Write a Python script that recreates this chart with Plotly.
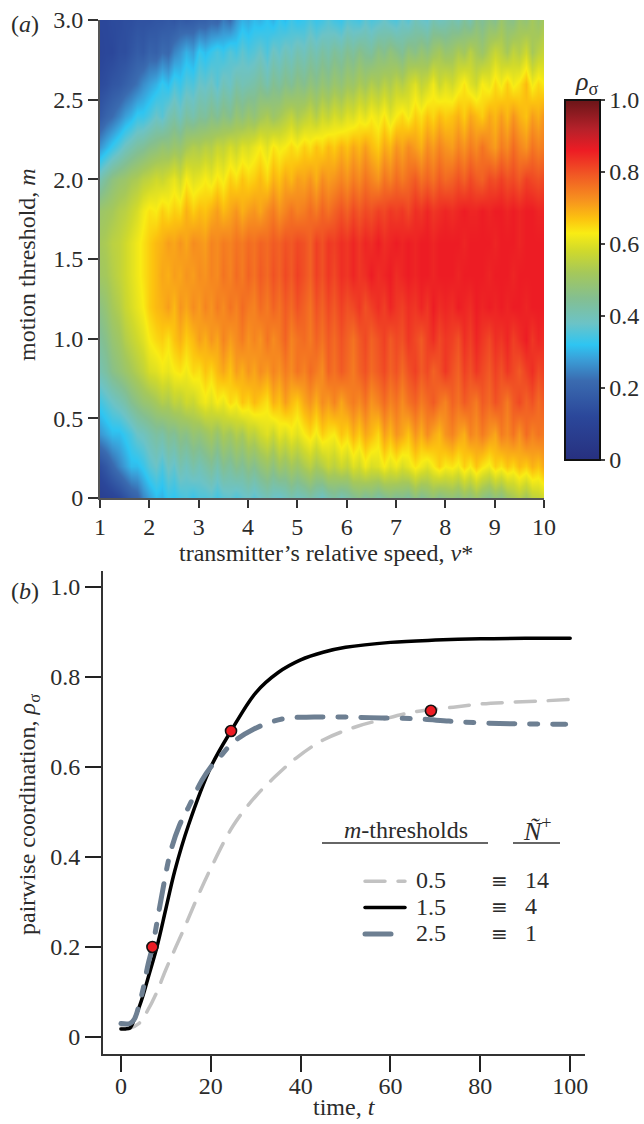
import plotly.graph_objects as go

W, H = 644, 1124
FONT = "Liberation Serif"
TXT = "#2b2b2b"
FS = 24

speed = [1 + 0.125 * i for i in range(73)]
threshold = [0.2 * i for i in range(16)]
# rho values in percent, one row per threshold
rows_pct = [
 [8,9,10,12,15,18,20,25,28, 31,30,33,32,34,35,33,35, 35,36,34,36,37,35,37,38, 36,38,40,38,37,39,41,39, 40,42,40,38,41,43,40,42, 44,46,43,45,42,44,46,44, 45,43,47,44,46,48,45,47, 48,46,49,47,50,47,45,48, 46,50,52,54,51,55,56,58],
 [14,17,21,25,28,31,31,33,36, 38,35,39,37,41,39,42,40, 42,44,41,45,43,46,44,47, 45,48,50,47,51,49,52,50, 53,55,52,54,57,55,58,56, 60,58,62,59,60,63,60,62, 59,61,64,62,60,63,66,63, 64,62,66,63,67,64,62,66, 64,67,65,68,66,69,67,70],
 [27,29,31,31,33,35,38,39,41, 43,42,45,44,47,46,49,48, 50,52,49,53,51,54,52,56, 55,58,60,57,61,59,62,60, 63,65,62,66,64,63,67,65, 69,66,70,68,65,71,68,72, 70,67,72,69,73,70,68,72, 74,71,69,74,72,75,72,70, 75,73,76,72,77,74,76,75],
 [34,36,38,40,42,45,47,49,50, 52,54,53,56,55,58,57,60, 62,60,63,61,65,63,67,65, 68,66,64,69,67,71,68,66, 70,72,69,73,71,74,70,73, 75,73,76,72,74,77,74,76, 73,76,78,75,77,79,76,74, 78,76,79,77,75,79,77,80, 78,75,79,81,78,80,77,79],
 [41,43,46,48,50,52,54,56,59, 60,62,61,63,64,62,65,64, 67,65,68,70,67,71,69,72, 70,73,71,74,72,75,73,76, 74,77,75,73,78,76,79,77, 75,78,80,77,79,81,78,80, 77,80,82,79,81,78,80,83, 80,78,82,80,83,81,79,82, 80,83,81,79,82,84,81,82],
 [44,46,49,51,54,56,58,60,63, 65,66,64,67,69,66,68,71, 69,72,70,74,71,73,75,72, 74,72,76,73,75,78,74,76, 77,75,78,76,79,77,80,78, 76,79,81,78,80,82,79,81, 80,83,81,79,82,84,81,83, 82,80,84,82,85,83,81,84, 83,85,82,84,86,83,85,84],
 [47,49,52,54,57,59,61,63,66, 68,69,71,68,72,70,73,71, 74,72,75,73,76,74,77,75, 74,77,75,78,76,79,77,80, 78,76,80,78,81,79,82,80, 81,83,80,82,84,82,85,83, 82,84,83,85,83,86,84,85, 84,86,85,84,86,85,86,85, 86,85,86,86,85,86,86,86],
 [51,52,54,56,58,60,62,64,66, 68,70,69,71,70,72,71,73, 72,74,73,76,74,77,75,78, 76,79,77,80,78,81,79,82, 80,78,82,80,83,81,84,83, 85,83,84,86,84,85,86,84, 85,86,85,86,86,85,86,86, 86,85,86,86,86,86,85,86, 86,86,85,86,86,86,86,86],
 [52,53,55,56,58,60,62,64,66, 68,69,71,70,72,70,73,72, 71,74,73,75,74,76,75,77, 76,78,77,79,78,80,79,81, 80,78,82,80,83,82,84,83, 85,83,85,84,86,84,85,86, 85,86,85,86,86,85,86,86, 86,86,85,86,86,86,86,85, 86,86,86,85,86,86,86,86],
 [50,51,52,54,55,57,59,62,64, 63,66,64,66,65,69,66,68, 67,69,71,68,70,72,69,71, 72,70,73,75,72,74,76,74, 75,77,75,78,76,78,80,78, 81,79,81,80,82,81,83,82, 83,81,84,83,85,83,84,85, 84,85,86,85,85,86,85,86, 86,85,86,85,86,86,85,85],
 [41,44,47,49,50,52,53,55,56, 58,57,59,61,58,63,60,61, 63,61,64,62,66,64,67,65, 66,68,65,69,67,70,68,71, 70,72,69,73,71,72,74,72, 75,73,76,74,72,76,74,77, 75,77,79,76,78,76,79,77, 78,80,78,81,79,78,81,80, 82,80,81,79,82,81,80,81],
 [27,30,33,36,39,41,43,44,46, 47,49,48,50,49,52,54,53, 55,54,57,56,59,57,60,59, 61,63,60,64,62,63,65,63, 66,64,67,65,68,66,69,67, 70,68,71,68,66,70,68,72, 70,73,71,69,73,71,74,72, 71,74,72,75,73,76,73,71, 75,73,77,74,72,76,74,75],
 [17,20,22,25,28,30,33,33,35, 38,36,40,42,39,43,41,44, 43,46,44,47,45,49,47,50, 48,51,53,50,52,54,56,53, 55,57,54,58,56,59,57,60, 59,62,60,63,61,64,60,63, 65,62,66,64,67,65,68,66, 67,69,66,70,68,66,70,68, 71,68,72,69,67,71,69,72],
 [13,14,16,17,19,21,23,26,28, 30,33,31,35,33,36,35,38, 37,39,36,40,38,42,40,41, 42,44,41,45,43,46,44,47, 45,48,46,49,47,50,48,51, 50,53,51,54,52,55,53,56, 54,57,60,56,58,62,57,60, 58,61,64,60,58,63,61,65, 62,66,62,64,68,62,65,63],
 [11,12,12,14,14,16,18,17,20, 19,22,21,25,27,30,28,33, 31,33,35,33,36,34,37,35, 36,38,35,39,37,40,38,41, 39,42,40,43,41,44,42,45, 43,46,44,43,47,45,48,46, 44,48,46,49,47,50,52,49, 50,53,51,55,52,50,54,57, 55,52,56,54,58,52,55,57],
 [12,12,13,13,14,14,15,15,15, 16,16,17,16,18,17,18,19, 19,21,20,24,22,27,30,29, 31,30,32,30,33,31,34,32, 33,35,33,34,36,34,33,36, 35,34,37,35,36,38,36,35, 38,36,40,38,37,41,39,40, 42,40,44,41,46,44,47,45, 50,47,46,50,48,52,49,52],
]
rows = [[c / 100 for c in r] for r in rows_pct]
cmap = [
 [0.0, "#27307f"], [0.12, "#2b479a"], [0.22, "#3a6bb0"], [0.28, "#3a9fd8"], [0.32, "#2ec5f2"],
 [0.38, "#6cc3c6"], [0.45, "#84bf90"], [0.52, "#a5c85a"], [0.58, "#cfd92c"], [0.63, "#f9ec14"],
 [0.67, "#fcc30f"], [0.72, "#f7941e"], [0.79, "#f15a24"], [0.86, "#ed1c24"], [0.92, "#b5212a"], [1.0, "#6a1518"],
]

t_low = [0, 2, 4, 6, 8, 10, 14, 17, 20, 25, 30, 35, 39, 45, 52.5, 58, 65, 74, 80, 87, 94, 100]
v_low = [.02, .02, .03, .06, .10, .15, .24, .31, .375, .47, .535, .585, .62, .66, .69, .705, .722, .733, .74, .744, .747, .75]
t_mid = [0, 1, 2, 3, 4, 5, 6, 8, 10, 12, 15, 20, 24.5, 30, 35, 40, 45, 50, 60, 70, 80, 90, 100]
v_mid = [.018, .018, .02, .04, .065, .095, .13, .20, .285, .37, .47, .60, .68, .765, .81, .838, .855, .866, .877, .882, .885, .886, .886]
t_high = [0, 2, 3, 4, 5, 6, 7, 9, 11, 13, 15, 18, 20, 22, 25, 29.5, 36, 43, 50, 58, 66, 73, 80, 88, 99]
v_high = [.03, .03, .04, .07, .11, .16, .20, .31, .41, .47, .51, .57, .60, .622, .655, .684, .707, .711, .711, .709, .707, .702, .698, .696, .695]
t_marks = [7, 24.5, 69]
v_marks = [.20, .68, .725]

def legend_name(text):
    return f'<span style="font-size:{FS}px">\u00a0{text}</span>'

fig = go.Figure()
fig.add_trace(go.Heatmap(
    x=speed, y=threshold, z=rows, zmin=0, zmax=1, zsmooth="best", colorscale=cmap,
    xaxis="x", yaxis="y", showlegend=False,
    colorbar=dict(thickness=35, thicknessmode="pixels", len=360, lenmode="pixels",
                  x=565/W, xanchor="left", xpad=0, y=1-280/H, yanchor="middle", ypad=0,
                  outlinecolor="#111111", outlinewidth=2,
                  tickvals=[0, .2, .4, .6, .8, 1], ticktext=["0", "0.2", "0.4", "0.6", "0.8", "1.0"],
                  ticks="outside", ticklen=4, tickcolor="#444444", tickwidth=1.5,
                  tickfont=dict(family=FONT, size=FS, color=TXT)),
))
fig.add_trace(go.Scatter(x=t_low, y=v_low, mode="lines", name=legend_name("0.5"), legendrank=1, xaxis="x2", yaxis="y2",
                         line=dict(color="#c2c2c2", width=3.5, dash="20px,13px", shape="spline")))
fig.add_trace(go.Scatter(x=t_mid, y=v_mid, mode="lines", name=legend_name("1.5"), legendrank=2, xaxis="x2", yaxis="y2",
                         line=dict(color="#000000", width=3.5, shape="spline")))
fig.add_trace(go.Scatter(x=t_high, y=v_high, mode="lines", name=legend_name("2.5"), legendrank=3, xaxis="x2", yaxis="y2",
                         line=dict(color="#6d7f92", width=5, dash="26px,15px,8px,15px", shape="spline")))
fig.add_trace(go.Scatter(x=t_marks, y=v_marks, mode="markers", showlegend=False, xaxis="x2", yaxis="y2",
                         marker=dict(color="#ed1c24", size=11, line=dict(color="#111111", width=1.6))))

axis_a = dict(showgrid=False, zeroline=False, showline=True, linecolor="#555555", linewidth=2,
              ticks="outside", tickcolor="#333333", tickwidth=1.5,
              tickfont=dict(family=FONT, size=FS, color=TXT))
axis_b = dict(showgrid=False, zeroline=False, showline=True, linecolor="#333333", linewidth=2,
              ticks="outside", tickcolor="#222222", tickwidth=2, ticklen=16,
              tickfont=dict(family=FONT, size=FS, color=TXT))
fig.update_layout(
    width=W, height=H, margin=dict(l=0, r=0, t=0, b=0, autoexpand=False), autosize=False,
    paper_bgcolor="white", plot_bgcolor="white",
    font=dict(family=FONT, size=FS, color=TXT),
    xaxis=dict(domain=[100/W, 544/W], range=[1, 10], tickvals=list(range(1, 11)), ticklen=8,
               ticklabelstandoff=-2, anchor="y", **axis_a),
    yaxis=dict(domain=[1-498/H, 1-20/H], range=[0, 3], tickvals=[0, .5, 1, 1.5, 2, 2.5, 3],
               ticktext=["0", "0.5", "1.0", "1.5", "2.0", "2.5", "3.0"], ticklen=10, anchor="x", **axis_a),
    xaxis2=dict(domain=[103/W, 585/W], range=[-4, 103.3], tickvals=[0, 20, 40, 60, 80, 100],
                ticklabelstandoff=-7, anchor="y2", **axis_b),
    yaxis2=dict(domain=[1-1054/H, 1-571/H], range=[-.0378, 1.0356], tickvals=[0, .2, .4, .6, .8, 1],
                ticktext=["0", "0.2", "0.4", "0.6", "0.8", "1.0"], anchor="x2", **axis_b),
    legend=dict(x=360/W, y=1-863/H, xanchor="left", yanchor="top", bgcolor="rgba(0,0,0,0)",
                traceorder="normal", itemwidth=40, font=dict(family=FONT, size=18, color=TXT),
                tracegroupgap=0),
    shapes=[
        dict(type="line", xref="paper", yref="paper", x0=322/W, x1=488/W, y0=1-843/H, y1=1-843/H,
             line=dict(color="#333333", width=1.5)),
        dict(type="line", xref="paper", yref="paper", x0=513/W, x1=560/W, y0=1-843/H, y1=1-843/H,
             line=dict(color="#333333", width=1.5)),
    ],
)

def note(text, x, y, size=FS, rot=0, anchor="center", family=FONT):
    fig.add_annotation(text=text, x=x/W, y=1-y/H, xref="paper", yref="paper", showarrow=False,
                       font=dict(family=family, size=size, color=TXT), textangle=rot,
                       xanchor=anchor, yanchor="middle")

note("(<i>a</i>)", 25, 24)
note("(<i>b</i>)", 25, 591)
note("motion threshold, <i>m</i>", 27, 265, FS, -90)
note("transmitter’s relative speed, <i>v</i>*", 326, 553)
note("<i>ρ</i><sub>σ</sub>", 586, 83, 26)
note("pairwise coordination, <i>ρ</i><sub>σ</sub>", 29, 815, FS, -90)
note("time, <i>t</i>", 344, 1107)
note("<i>m</i>-thresholds", 406, 830)
note("<i>Ñ</i><sup>+</sup>", 537, 829, 26)
for label, y in zip(["14", "4", "1"], [880, 906, 933]):
    note("≡", 499, y + 1, 20, family="DejaVu Sans")
    note(label, 523, y, anchor="left")

fig.write_html("out.html", config={"displayModeBar": False},
               post_script="document.body.style.margin='0';document.querySelectorAll('path.js-line').forEach(p=>p.style.strokeLinecap='round');")
